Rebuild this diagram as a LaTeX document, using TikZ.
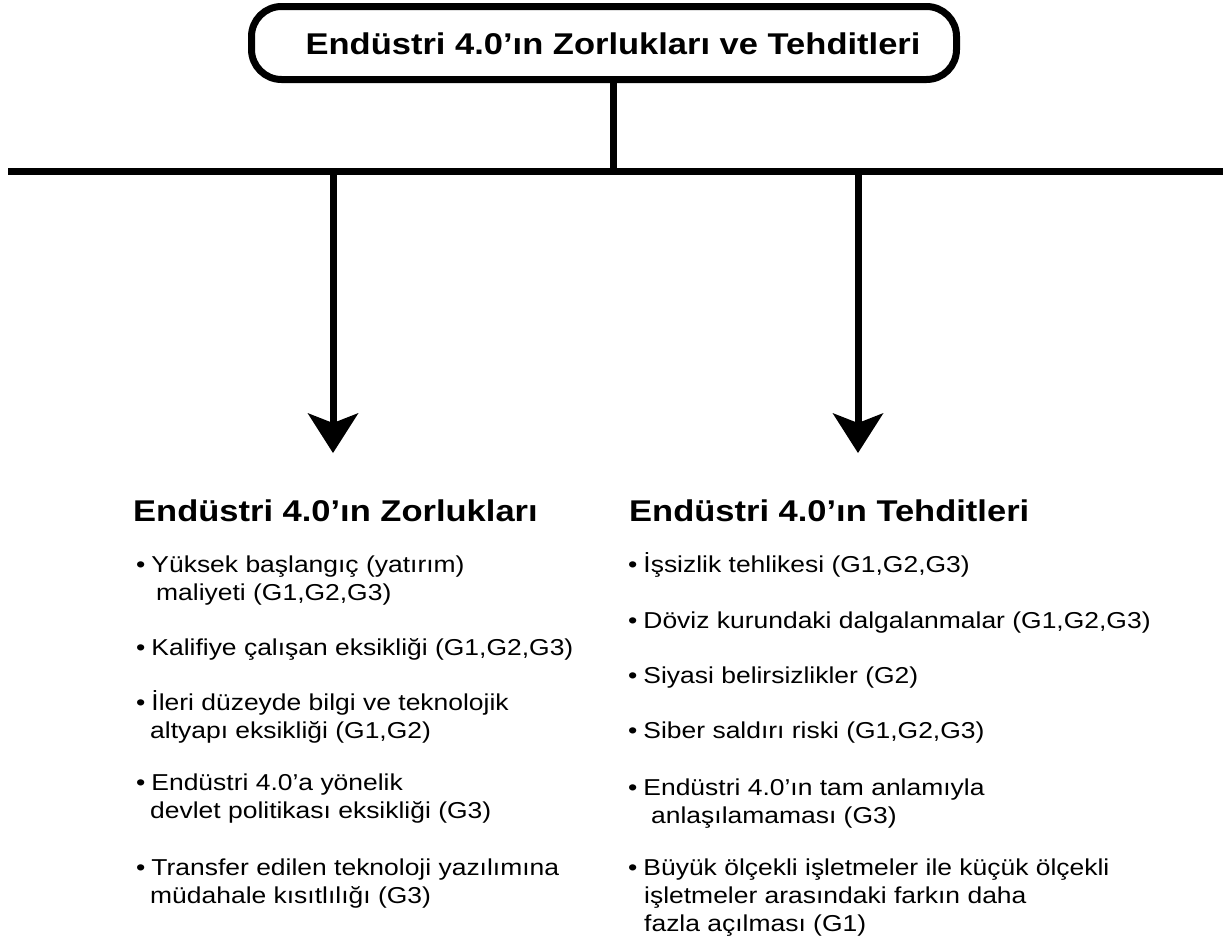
\documentclass[tikz,border=0pt]{standalone}
\usepackage{fontspec}
\setmainfont{Liberation Sans}[FakeStretch=1.15]
\usetikzlibrary{arrows.meta}

\begin{document}
\begin{tikzpicture}[x=1pt, y=-1pt,
  rule/.style={line width=7pt, black},
  pointer/.style={rule, -{Stealth[length=40pt, width=51pt, inset=10pt, line width=0pt]}},
  titlebox/.style={draw, line width=7pt, rounded corners=30pt,
    minimum width=705pt, minimum height=73pt, inner sep=0pt,
    text height=22pt, text depth=0pt,
    font=\fontsize{30pt}{34pt}\selectfont\bfseries},
  heading/.style={anchor=base west, inner sep=0pt,
    font=\fontsize{30pt}{34pt}\selectfont\bfseries},
  entry/.style={anchor=base west, inner sep=0pt,
    font=\fontsize{23pt}{28pt}\selectfont},
]
\useasboundingbox (0,0) rectangle (1223,940);

% title box
\node[titlebox] (title) at (604,43) {\hspace*{18pt}Endüstri 4.0’ın Zorlukları ve Tehditleri};

% trunk and branch rail
\coordinate (junction) at (613,171);
\coordinate (rail-left) at (8,171);
\coordinate (rail-right) at (1223,171);
\coordinate (tipL) at (333,453);
\coordinate (tipR) at (858,453);
\draw[rule] (title.south -| junction) -- (junction);
\draw[rule] (rail-left) -- (rail-right);
\draw[pointer] (tipL |- junction) -- (tipL);
\draw[pointer] (tipR |- junction) -- (tipR);

% left column: challenges
\node[heading] (hL) at (133,521.7) {Endüstri 4.0’ın Zorlukları};
\node[entry] (L1a) at (136,572) {•\hspace{6pt}Yüksek başlangıç (yatırım)};
\node[entry] (L1b) at (156,600) {maliyeti (G1,G2,G3)};
\node[entry] (L2a) at (136,655) {•\hspace{6pt}Kalifiye çalışan eksikliği (G1,G2,G3)};
\node[entry] (L3a) at (136,710) {•\hspace{6pt}İleri düzeyde bilgi ve teknolojik};
\node[entry] (L3b) at (150,738) {altyapı eksikliği (G1,G2)};
\node[entry] (L4a) at (136,790) {•\hspace{6pt}Endüstri 4.0’a yönelik};
\node[entry] (L4b) at (150,818) {devlet politikası eksikliği (G3)};
\node[entry] (L5a) at (136,875) {•\hspace{6pt}Transfer edilen teknoloji yazılımına};
\node[entry] (L5b) at (150,903) {müdahale kısıtlılığı (G3)};

% right column: threats
\node[heading] (hR) at (629,521.7) {Endüstri 4.0’ın Tehditleri};
\node[entry] (R1a) at (628,572) {•\hspace{6pt}İşsizlik tehlikesi (G1,G2,G3)};
\node[entry] (R2a) at (628,628) {•\hspace{6pt}Döviz kurundaki dalgalanmalar (G1,G2,G3)};
\node[entry] (R3a) at (628,683) {•\hspace{6pt}Siyasi belirsizlikler (G2)};
\node[entry] (R4a) at (628,738) {•\hspace{6pt}Siber saldırı riski (G1,G2,G3)};
\node[entry] (R5a) at (628,795) {•\hspace{6pt}Endüstri 4.0’ın tam anlamıyla};
\node[entry] (R5b) at (651,823) {anlaşılamaması (G3)};
\node[entry] (R6a) at (628,875) {•\hspace{6pt}Büyük ölçekli işletmeler ile küçük ölçekli};
\node[entry] (R6b) at (644,903) {işletmeler arasındaki farkın daha};
\node[entry] (R6c) at (644,931) {fazla açılması (G1)};
\end{tikzpicture}
\end{document}
